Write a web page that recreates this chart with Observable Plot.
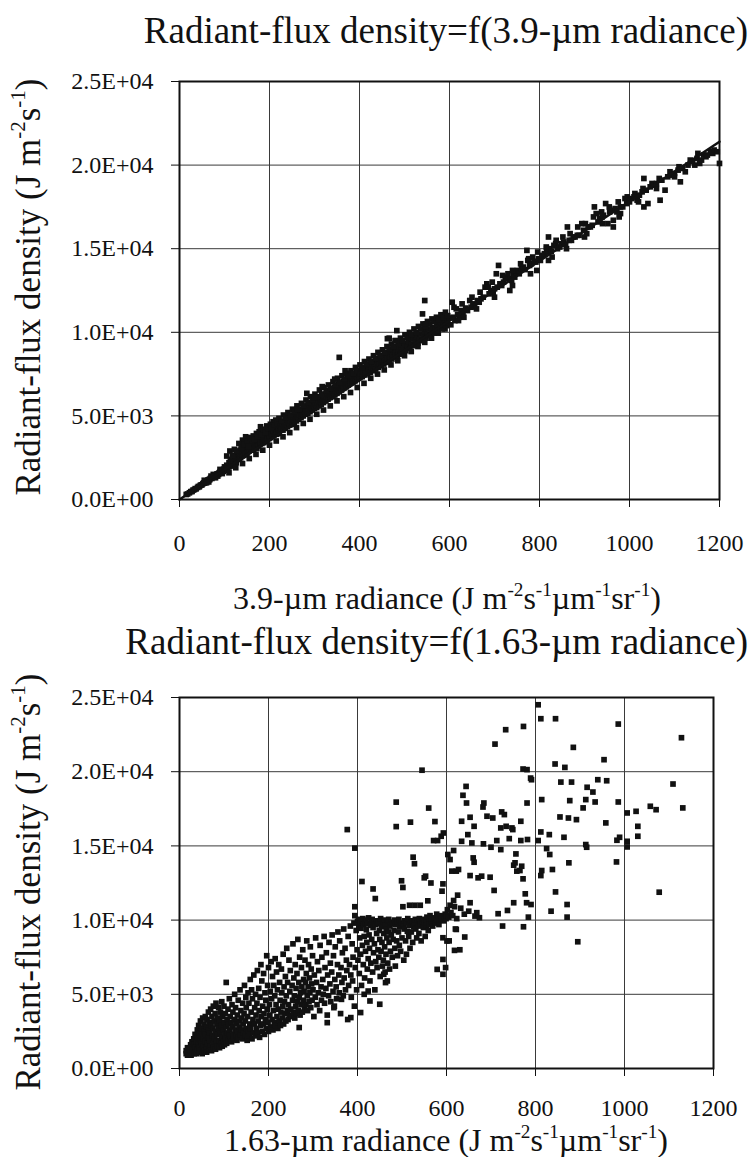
<!DOCTYPE html>
<html><head><meta charset="utf-8">
<script src="https://cdn.jsdelivr.net/npm/d3@7"></script>
<script src="https://cdn.jsdelivr.net/npm/@observablehq/plot@0.6"></script>
<style>
body{margin:0;background:#fff;}
#wrap{position:relative;width:752px;height:1157px;color:#111;overflow:hidden;}
.abs{position:absolute;white-space:nowrap;line-height:1;}
.title{right:4px;font-size:37px;}
.xlab{font-size:32px;transform:translate(-50%,-50%);}
.ylab{font-size:35px;transform:translate(-50%,-50%) rotate(-90deg);}
sup{font-size:0.6em;vertical-align:0.7em;line-height:0;}
#p1,#p2{position:absolute;left:0;}
#p1{top:0;} #p2{top:600px;}
</style></head>
<body>
<div id="wrap">
  <div id="p1"></div>
  <div id="p2"></div>
  <div class="abs title" style="font-family:'Liberation Serif';top:12px;">Radiant-flux density=f(3.9-µm radiance)</div>
  <div class="abs xlab" style="font-family:'Liberation Serif';left:447px;top:598px;">3.9-µm radiance (J m<sup>-2</sup>s<sup>-1</sup>µm<sup>-1</sup>sr<sup>-1</sup>)</div>
  <div class="abs ylab" style="font-family:'Liberation Serif';left:28px;top:287px;">Radiant-flux density (J m<sup>-2</sup>s<sup>-1</sup>)</div>
  <div class="abs title" style="font-family:'Liberation Serif';top:623px;">Radiant-flux density=f(1.63-µm radiance)</div>
  <div class="abs xlab" style="font-family:'Liberation Serif';left:446px;top:1140px;">1.63-µm radiance (J m<sup>-2</sup>s<sup>-1</sup>µm<sup>-1</sup>sr<sup>-1</sup>)</div>
  <div class="abs ylab" style="font-family:'Liberation Serif';left:28px;top:882px;">Radiant-flux density (J m<sup>-2</sup>s<sup>-1</sup>)</div>
</div>
<script>
const xTicks = [0,200,400,600,800,1000,1200];
const yTicks = [0,5000,10000,15000,20000,25000];

// 3.9-um radiance vs radiant-flux density
const fit39 = [[0,0],[1200,21400]];
const points39 = [
[15,300],[18,330],[22,400],[25,470],[28,480],[30,560],[33,590],[35,650],[37,640],[40,720],[42,780],[44,760],[46,840],[48,870],[50,880],[52,950],[54,990],[56,980],[58,1060],[60,1100],[62,1080],[63,1160],[65,1190],[67,1180],[68,1250],[70,1280],[72,1260],[73,1340],[75,1360],[77,1330],[78,1420],[80,1460],[82,1430],[83,1520],[85,1540],[87,1500],[88,1600],[90,1640],[92,1600],[93,1700],[95,1720],[97,1680],[98,1800],[100,1820],
[55,1150],[65,1050],[75,1500],[85,1400],[90,1800],[95,1550],[100,1950],[80,1300],[70,1400],[60,1000],
[102,1750],[104,1900],[105,2050],[107,1850],[108,2000],[110,1950],[110,2200],[112,2050],[113,2300],[115,2100],[116,2400],[118,2200],[119,2000],[120,2350],[121,2550],[123,2250],[124,2450],[125,2600],[126,2200],[128,2400],[129,2700],[130,2500],[131,2850],[133,2400],[134,2650],[135,2950],[136,2500],[138,2750],[139,3050],[140,2600],[141,2850],[142,3300],[143,2650],[145,2900],[146,3400],[147,2700],[148,3050],[149,3500],[150,2750],[151,3100],[152,2850],[154,3200],[155,2900],[156,3350],[158,3000],[159,3250],[160,2950],[162,3100],[163,3400],[165,3000],[166,3250],[168,3100],[169,3450],[170,3200],[172,3050],[173,3350],[175,3500],[176,3200],[178,3600],[179,3300],[180,3400],[181,3750],[183,3350],[184,3550],[185,3850],[187,3400],[188,3650],[189,3950],[190,3500],[192,3700],[193,3450],[195,3800],[196,3600],[198,4000],[199,3650],[200,3800],[201,4150],[203,3700],[204,3950],[206,4200],[207,3800],[209,4050],[210,3850],[212,4300],[213,3950],[215,4150],[216,3900],[218,4350],[219,4050],[220,4250],
[180,4350],[140,3550],[147,3750],[156,3700],
[105,2600],[112,2900],[118,2650],[122,3000],[127,2900],[132,3350],[137,3100],[144,3300],[150,3500],[153,3150],[157,3700],[161,3500],[164,3800],[167,3600],[171,3950],[174,3750],[177,4050],[182,3900],[186,4200],[191,4000],[194,4400],[197,4250],[202,4500],[205,4300],[208,4650],[211,4450],[214,4750],[217,4550],[221,4850],
[222,3950],[224,4400],[225,4150],[227,4250],[228,4550],[230,4150],[232,4400],[233,4650],[235,4250],[237,4500],[238,4750],[240,4350],[242,4600],[243,4850],[245,4450],[247,4700],[248,4950],[250,4500],[252,4800],[254,5050],[255,4600],[257,4900],[258,5150],[260,4700],[262,4950],[264,5200],[265,4800],[267,5050],[269,5300],[270,4900],[272,5150],[274,5400],[275,5000],[277,5250],[279,5450],[280,5100],[282,5350],[284,5550],[285,5150],[287,5450],[289,5650],[290,5250],[292,5500],[294,5750],[295,5350],[297,5600],[299,5850],[300,5450],[302,5700],[304,5950],[305,5500],[307,5800],[309,6050],[310,5600],[312,5850],[314,6100],[315,5700],[317,5950],[319,6200],[320,5800],[322,6050],[324,6300],[325,5900],[327,6150],[329,6400],[330,6000],[332,6250],[334,6500],[335,6100],[337,6300],[339,6600],[340,6150],[342,6400],[344,6700],[345,6250],[347,6500],[349,6800],[350,6350],[352,6600],[354,6900],[355,6450],[357,6700],[359,7000],[360,6550],[362,6800],[364,7050],[365,6650],[367,6900],[369,7150],[370,6750],[372,7000],[374,7250],[375,6850],[377,7100],[379,7300],[380,6950],[382,7200],[384,7400],[385,7000],[387,7300],[389,7500],[390,7100],[392,7350],[394,7600],[395,7200],[397,7450],[399,7700],[400,7300],
[226,4700],[231,5050],[236,4900],[241,5200],[246,5050],[251,5400],[256,5250],[261,5600],[266,5400],[271,5750],[276,5600],[281,5950],[286,5800],[291,6150],[296,5950],[301,6300],[306,6150],[311,6550],[316,6300],[321,6700],[326,6500],[331,6850],[336,6650],[341,7050],[346,6850],[351,7250],[356,7000],[361,7400],[366,7200],[371,7550],[376,7400],[381,7700],[386,7550],[391,7900],[396,7700],
[283,6350],[317,6750],[355,8500],[262,5400],[300,6100],[368,7700],[345,7200],
[110,1600],[125,1900],[140,2150],[155,2450],[170,2700],[185,2950],[200,3250],[215,3500],[230,3750],[245,4000],[260,4300],[275,4550],[290,4800],[305,5100],[320,5350],[335,5600],[350,5900],[365,6150],[380,6400],[395,6700],[410,6950],[425,7250],[440,7500],[455,7750],[470,8050],[485,8300],[500,8600],[515,8850],[530,9150],[545,9400],[560,9650],[575,9950],[590,10200],
[402,7550],[404,7800],[406,7350],[408,7650],[410,7900],[412,7450],[414,7700],[416,8000],[418,7550],[420,7800],[422,8050],[424,7600],[426,7900],[428,8150],[430,7700],[432,8000],[434,8250],[436,7800],[438,8100],[440,8350],[442,7900],[444,8150],[446,8450],[448,8000],[450,8250],[452,8550],[454,8100],[456,8350],[458,8650],[460,8200],[462,8450],[464,8750],[466,8300],[468,8550],[470,8850],[472,8400],[474,8650],[476,8950],[478,8500],[480,8750],[482,9050],[484,8600],[486,8850],[488,9150],[490,8700],[492,8950],[494,9250],[496,8800],[498,9050],[500,9350],[503,8900],[506,9150],[509,9450],[512,9050],[515,9300],[518,9600],[521,9200],[524,9450],[527,9750],[530,9350],[533,9600],[536,9900],[539,9500],[542,9750],[545,10050],[548,9650],[551,9900],[554,10200],[557,9800],[560,10050],[563,10300],[566,9950],[569,10200],[572,10450],[575,10100],[578,10300],[581,10600],[584,10200],[587,10450],[590,10700],[593,10400],[596,10600],[599,10850],
[401,8050],[406,7900],[411,8250],[416,8100],[421,8400],[426,8250],[431,8600],[436,8450],[441,8800],[446,8600],[451,8950],[456,8800],[461,9150],[466,9000],[471,9300],[476,9150],[481,9500],[486,9350],[491,9650],[496,9500],[501,9850],[506,9700],[511,10000],[516,9850],[521,10200],[526,10000],[531,10350],[536,10200],[541,10500],[546,10350],[551,10650],[556,10500],[561,10800],[566,10650],[571,10900],[576,10750],[581,11050],[586,10900],[591,11200],[596,11000],
[462,9620],[483,10100],[479,9500],[545,11900],[540,11100],[547,10500],[466,9650],[491,8700],
[603,10450],[606,11800],[608,10900],[612,10700],[615,11400],[618,11050],[622,10900],[626,11300],[630,11100],[632,10900],[636,11450],[640,11300],[645,11900],[648,11500],[652,11700],[656,11550],[662,11900],[666,11800],[670,12000],[675,12100],[679,12700],[683,12900],[688,12300],[692,12500],[697,12400],[700,12600],[704,13500],[706,12700],[709,14000],[712,12900],[716,12800],[720,13000],[724,13200],[726,13300],[730,13500],[734,12500],[736,13200],[738,13100],[742,13400],[745,13300],[748,13600],[751,13700],[755,13500],[760,13800],[764,13900],[768,13750],[772,14900],[774,14300],[778,14000],[782,14100],[785,14500],[788,14250],[792,14200],[794,13700],[798,14400],[802,14300],
[610,11500],[628,11700],[650,12100],[668,12400],[686,12700],[695,13000],[718,13400],[740,13700],[758,14100],[776,14400],[796,14800],[816,15000],[836,15300],[852,15700],[868,15900],[885,16300],[902,16500],[920,16900],[938,17200],[955,17500],[975,17800],[995,18100],[1012,18300],[1030,18600],[1050,18900],[1066,19200],[1090,19600],[1110,19900],[1135,20300],[1152,20700],
[620,10700],[660,11400],[700,12100],[740,12800],[780,13500],[820,14300],[860,15000],[900,15700],[940,16500],[980,17100],[1020,17800],[1060,18600],[1100,19300],[1145,20000],[1185,20700],
[806,14600],[811,14700],[815,15100],[818,14800],[820,15700],[823,15000],[826,14850],[828,14500],[832,15200],[837,15500],[840,15000],[845,15100],[848,15300],[854,15400],[858,15250],[862,16300],[866,15500],[871,15500],[875,15700],[879,15700],[884,15800],[888,15800],[894,16500],[898,16100],[905,15900],[908,16300],[913,16300],[917,16400],[922,17500],[926,17100],[930,16600],[934,16800],[939,16900],[942,17000],[947,17700],[952,16500],[956,17200],[960,17300],[964,16300],[964,16700],[968,17400],[972,17200],[977,16900],[980,17500],[985,17500],[990,18000],[994,17700],[1000,17800],[1005,18000],[1010,18100],[1017,17900],[1022,18200],[1028,18400],[1032,19200],[1032,17500],[1037,18500],[1041,17700],[1046,18700],[1052,18800],[1060,18900],[1068,17900],[1072,19100],[1079,18500],[1085,19300],[1094,19400],[1100,19500],[1108,19700],[1113,19000],[1118,19800],[1124,19600],[1130,20000],[1140,20200],[1150,20400],[1156,20100],[1160,20300],[1165,20600],[1170,20500],[1173,20600],[1180,20800],[1188,20900],[1195,20800],[1200,20100]
];

// 1.63-um radiance vs radiant-flux density
const points163 = [
[15,1000],[15,1200],[18,900],[18,1400],[20,1100],[22,1000],[22,1300],[25,1200],[25,1600],[26,900],[28,1400],[28,1800],[30,1100],[30,1300],[32,2000],[33,1000],[33,1600],[35,1200],[35,2300],[36,1450],[38,1800],[38,1000],[40,2600],[40,1300],[41,2100],[42,1600],[43,2900],[44,1100],[45,2400],[45,1400],[46,1900],[47,3200],[48,1200],[48,2200],[50,1700],[50,2700],[51,1000],[52,3400],[53,1500],[54,2000],[55,2500],[55,3000],[56,1200],[57,1800],[58,3500],[59,2300],[60,1400],[60,2800],[61,1100],[62,3300],[63,1700],[64,2100],[65,2600],[65,3800],[66,1300],[67,3100],[68,1900],[68,2400],[70,1500],[70,4000],[71,2900],[72,1200],[73,3500],[74,2200],[75,1700],[75,2700],[76,4200],[77,1400],[78,3200],[79,2000],[80,2500],[80,3700],[81,1300],[82,4400],[83,1800],[84,3000],[85,2300],[86,1500],[86,3400],[87,2700],[88,4100],[89,1900],[90,1400],[90,3200],[91,2400],[92,3800],[93,1700],[94,2900],[95,4500],[95,2100],[96,1500],[97,3500],[98,2600],[99,1800],[100,3100],[100,4200],[101,1600],[102,2300],[103,3700],[104,2000],[105,2800],[105,5800],[106,1700],[107,3300],[108,2400],[109,4000],[110,1900],[110,3000],[111,2200],[112,4700],[113,2600],[114,3500],[115,2000],[116,3100],[117,1800],[118,4300],[119,2800],[120,2300],[120,3800],[122,2000],[123,3300],[124,5000],[125,2600],[126,4100],[127,2200],[128,3000],[129,1900],[130,3600],[131,2500],[132,4600],[133,2100],[134,3200],[135,2800],[136,5300],[137,2300],[138,3900],[139,2600],[140,3400],[141,2000],[142,4400],[143,3000],[144,2400],[145,3700],[146,5600],[147,2200],[148,3200],[149,4800],[150,2700],[150,4100],
[152,1900],[153,3500],[154,5100],[155,2500],[156,4400],[157,2200],[158,3000],[159,6000],[160,2700],[161,3800],[162,5300],[163,2000],[164,4700],[165,3300],[166,2400],[167,6300],[168,3000],[169,4100],[170,2200],[171,5000],[172,3600],[173,2700],[174,4400],[175,6600],[176,2400],[177,3200],[178,5400],[179,3900],[180,2100],[181,4800],[182,2900],[183,7000],[184,3500],[185,5900],[186,2500],[187,4200],[188,3000],[189,6400],[190,3700],[191,2300],[192,5100],[193,3300],[194,4600],[195,2700],[196,7600],[197,4000],[198,5600],[199,3100],[200,2500],[200,6800],[202,4300],[203,3600],[204,5200],[205,2800],[206,7200],[207,4700],[208,3300],[209,6200],[210,2600],[211,3900],[212,5600],[213,3100],[214,4900],[215,7400],[216,2900],[217,4300],[218,6500],[219,3500],[220,5300],[221,2700],[222,4000],[223,7000],[224,3200],[225,5800],[226,4600],[227,2900],[228,3800],[229,6700],[230,5100],[231,3400],[232,4200],[233,7700],[234,3000],[235,5500],[236,4500],[237,3700],[238,6200],[239,3200],[240,4900],[241,8100],[242,3900],[243,5800],[244,3300],[245,4300],[246,7300],[247,3600],[248,5200],[249,6600],[250,4000],[252,3500],[253,5600],[254,4600],[255,8400],[256,3800],[257,6100],[258,4900],[259,3400],[260,7000],[261,4200],[262,5400],[263,3700],[264,6400],[265,4500],[266,8700],[267,3900],[268,5800],[269,4800],[270,7500],[271,3600],[272,5100],[273,4300],[274,6800],[275,5500],[276,3800],[277,8000],[278,4600],[279,6000],[280,5200],[281,4000],[282,7300],[283,5800],[284,4300],[285,6400],[286,8600],[287,4900],[288,3900],[289,5500],[290,7000],[291,4500],[292,6100],[293,5100],[294,8200],[295,4100],[296,6700],[297,5700],[298,4600],[299,7600],[300,5300],
[302,3500],[303,6300],[305,4800],[306,8800],[308,5800],[309,4300],[310,7200],[312,5100],[313,6600],[315,3900],[316,8300],[318,5500],[319,4600],[320,7500],[322,6000],[323,5000],[325,8900],[326,4400],[327,6800],[329,5400],[330,7800],[332,3600],[333,6300],[335,4900],[336,8500],[338,5700],[339,7100],[340,4500],[342,6500],[343,9000],[345,5200],[346,7600],[348,4200],[349,6000],[350,8200],[352,5500],[353,4700],[355,7000],[356,9200],[358,6300],[359,5100],[360,8600],[362,3700],[363,6800],[365,5800],[366,7800],[368,4900],[369,9400],[370,6100],[372,8100],[373,5300],[375,7300],[376,6600],[378,3300],[379,8900],[380,5600],[377,16100],[382,7000],[384,9600],[385,6300],[386,4800],[388,8400],[389,5900],[390,7500],[392,9800],[393,4200],[394,10900],[394,10300],[395,6800],[394,14850],[397,9300],[398,5300],[399,8000],[400,9900],
[450,4330],[407,3770],[385,3430],[428,4550],[415,5000],[364,4660],[347,4100],[332,3090],[269,2760],[463,5790],[467,5900],[459,6350],[424,5220],
[401,7300],[402,10050],[403,9600],[404,6400],[405,8800],[406,9850],[407,7700],[408,9450],[409,5600],[410,12600],[410,9950],[411,8300],[412,10100],[413,7000],[414,9700],[415,8900],[416,6100],[417,9850],[418,7900],[419,10000],[420,9350],[421,8500],[422,6700],[423,9750],[424,7400],[425,10150],[426,9000],[427,8100],[428,5900],[429,9650],[430,7100],[431,9900],[432,8700],[433,10050],[434,6500],[435,12100],[435,9500],[436,7800],[437,9800],[438,8400],[439,5300],[440,11450],[440,9700],[441,7200],[442,9950],[443,9100],[444,6800],[445,9750],[446,8000],[447,9850],[448,7500],[449,9300],[450,8700],[451,6200],[452,10100],[453,7900],[454,9550],[455,8500],[456,6900],[457,9900],[458,7300],[459,9100],[460,10000],[461,8200],[462,6500],[463,9650],[464,7700],[465,9400],[466,8800],[467,9950],[468,7100],[469,9200],[470,10050],[471,8500],[472,6700],[473,9600],[474,7900],[475,9850],[476,9000],[478,7500],[479,9750],[480,8700],[482,9300],[483,10000],[484,8100],[485,6900],[486,9700],[487,17950],[487,16300],[488,8600],[489,9900],[490,7600],[492,9200],[493,10050],[494,8300],[495,9550],[497,7900],[498,9800],[499,12650],[500,8800],[502,12200],[502,10900],[503,9700],[504,7300],[505,9400],[506,9950],[508,8600],[509,9800],[510,7700],[512,9250],[513,10100],[515,8900],[516,9650],[517,11000],[518,8100],[519,16600],[520,9900],[521,9200],[523,9950],[524,8500],[525,14240],[526,9550],[527,9850],[528,13800],[529,11000],[530,10050],[531,9400],[533,8800],[534,9800],[535,10000],[537,9600],[538,9100],[539,10100],[541,11000],[542,9750],[543,8600],[545,20100],[546,9900],[547,10050],[548,9500],[550,12850],[551,9800],[552,8900],[553,12960],[554,10000],[555,9650],[556,10200],[557,9850],[558,11300],[559,9300],[560,17550],[561,10000],[562,9700],[563,10300],[565,12500],[566,9900],[567,10100],[569,9600],[571,15360],[572,10150],[574,16640],[575,9800],[577,10000],[578,10400],[580,15360],[581,10200],[583,9700],[585,10050],[587,10300],[588,15650],[589,10100],[590,11950],[592,12440],[593,15870],[594,9950],[595,10200],[597,10400],[598,6800],[599,10100],[600,10300],
[592,8810],[592,7350],[592,6350],[579,6680],[601,8590],[618,7960],[641,8860],[622,9370],
[602,10700],[603,14420],[605,10200],[606,8600],[608,14080],[608,11000],[610,10500],[612,13300],[614,10300],[616,11320],[616,14690],[618,10900],[620,9400],[622,13300],[623,10100],[625,11680],[627,13410],[630,8000],[632,10800],[634,15310],[634,16660],[637,18410],[640,10400],[644,19010],[645,17890],[648,15760],[650,10600],[653,13000],[653,11170],[653,16930],[657,15200],[660,14190],[662,13900],[662,16320],[664,10270],[668,10500],[671,12850],[674,10160],[679,12960],[682,17620],[683,15140],[684,17890],[691,17000],[698,12890],[700,14910],[704,16880],[707,12000],[709,21860],[713,15360],[716,10430],[722,16210],[722,14750],[724,17290],[726,9600],[730,17110],[733,22830],[734,16320],[737,10650],[741,15490],[747,16210],[749,16100],[751,13700],[751,11170],[754,13860],[756,14460],[758,13300],[765,13340],[767,16660],[767,15360],[769,13630],[772,12780],[772,20180],[773,9550],[773,23050],[777,11770],[780,11170],[781,17890],[781,20140],[782,15430],[784,10200],[789,19570],[790,11050],[791,19460],
[806,24510],[806,15360],[812,23570],[812,15940],[812,13000],[814,18120],[814,13340],[825,14820],[831,15760],[832,14420],[835,10600],[838,13410],[844,20520],[845,23570],[845,11900],[855,16950],[857,19300],[864,15580],[866,20290],[871,11050],[871,10200],[874,16880],[875,13860],[877,18050],[881,19300],[885,21640],[892,16770],[895,8540],[907,17560],[913,18120],[913,15090],[915,14910],[916,18950],[929,18630],[934,17960],[940,19460],[954,20810],[958,16550],[960,19390],[982,13920],[983,15380],[986,23210],[986,17960],[989,15580],[1006,17220],[1006,14930],[1006,15310],[1026,17330],[1030,16320],[1030,15650],[1058,17670],[1071,17440],[1078,11880],[1109,19170],[1128,22290],[1131,17560]
];

function fmtE(d) {
  const [m, e] = d.toExponential(1).split("e");
  const sign = e[0] === "-" ? "-" : "+";
  return m + "E" + sign + String(Math.abs(+e)).padStart(2, "0");
}

function panel({points, fit, height, marginTop, marginBottom, marginRight, xPad}) {
  const marks = [
    Plot.gridX(xTicks, {stroke: "#3a3a3a", strokeOpacity: 1, strokeWidth: 1}),
    Plot.gridY(yTicks, {stroke: "#3a3a3a", strokeOpacity: 1, strokeWidth: 1}),
    Plot.dot(points, {x: d => d[0], y: d => d[1], symbol: "square", r: 3.2, fill: "#111", stroke: null})
  ];
  if (fit) marks.push(Plot.line(fit, {x: d => d[0], y: d => d[1], stroke: "#111", strokeWidth: 2.5}));
  marks.push(
    Plot.frame({stroke: "#111", strokeWidth: 2}),
    Plot.axisX(xTicks, {tickSize: 8, tickPadding: xPad, label: null, stroke: "#111", tickFormat: d => String(d)}),
    Plot.axisY(yTicks, {tickSize: 8, tickPadding: 18, label: null, tickFormat: fmtE, stroke: "#111"})
  );
  return Plot.plot({
    width: 752, height, marginTop, marginBottom, marginLeft: 179, marginRight,
    x: {domain: [0, 1200]},
    y: {domain: [0, 25000]},
    style: {fontFamily: "Liberation Serif", fontSize: "24px", color: "#111", background: "transparent", overflow: "visible"},
    marks
  });
}

document.getElementById("p1").appendChild(panel({points: points39, fit: fit39, height: 560, marginTop: 81, marginBottom: 61, marginRight: 33, xPad: 26}));
document.getElementById("p2").appendChild(panel({points: points163, fit: null, height: 540, marginTop: 97, marginBottom: 72, marginRight: 39, xPad: 22}));
</script>
</body></html>
